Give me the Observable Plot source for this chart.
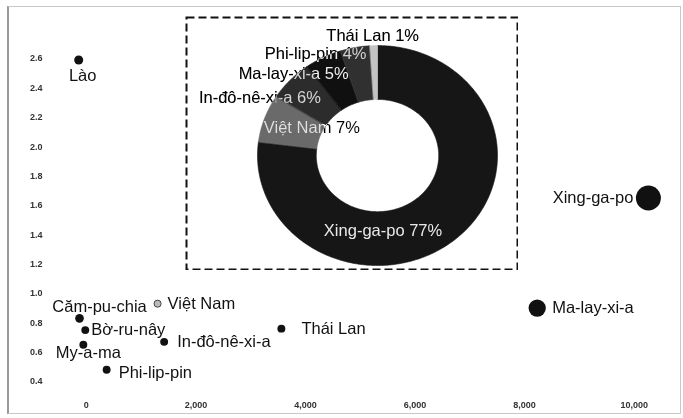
<!DOCTYPE html>
<html><head><meta charset="utf-8">
<script src="https://cdn.jsdelivr.net/npm/d3@7"></script>
<script src="https://cdn.jsdelivr.net/npm/@observablehq/plot@0.6"></script>
<style>
body{margin:0;background:#fff;}
#wrap{position:relative;width:683px;height:418px;overflow:hidden;font-family:"Liberation Sans",Arial,sans-serif;}
#border{position:absolute;left:7px;top:6px;width:674px;height:408px;border:1px solid #c8c8c8;border-left:2px solid #999;box-sizing:border-box;}
#main,#inset{position:absolute;}
#main{left:0;top:0;}
#inset{left:185px;top:16px;}
</style></head><body>
<div id="wrap"><div id="border"></div><div id="main"></div><div id="inset"></div></div>
<script>
// Scatter data
const countries = ["Lào","Căm-pu-chia","Bờ-ru-nây","My-a-ma","Phi-lip-pin","In-đô-nê-xi-a","Việt Nam","Thái Lan","Ma-lay-xi-a","Xing-ga-po"];
const xValues = [-140, -125, -20, -55, 370, 1420, 1300, 3560, 8230, 10260];
const yValues = [2.59, 0.83, 0.75, 0.65, 0.48, 0.67, 0.93, 0.76, 0.90, 1.65];
const bubbleValues = [13, 12, 10, 10, 10, 10, 8, 10, 48, 100];
const xTicks = [0, 2000, 4000, 6000, 8000, 10000];
const yTicks = [0.4, 0.6, 0.8, 1.0, 1.2, 1.4, 1.6, 1.8, 2.0, 2.2, 2.4, 2.6];

// Donut data
const pieNames = ["Xing-ga-po","Việt Nam","In-đô-nê-xi-a","Ma-lay-xi-a","Phi-lip-pin","Thái Lan"];
const pieShares = [77, 7, 6, 5, 4, 1];

// ---- styling ----
const FONT = '"Liberation Sans", Arial, Helvetica, sans-serif';
const pieColors = ["#161616","#6a6a6a","#2c2c2c","#101010","#303030","#c4c4c4"];
const labelStyle = {
  "Lào": {dx:4, dy:16, anchor:"middle"},
  "Căm-pu-chia": {dx:20, dy:-12, anchor:"middle"},
  "Bờ-ru-nây": {dx:6, dy:0, anchor:"start"},
  "My-a-ma": {dx:5, dy:8, anchor:"middle"},
  "Phi-lip-pin": {dx:12, dy:3, anchor:"start"},
  "In-đô-nê-xi-a": {dx:13, dy:0, anchor:"start"},
  "Việt Nam": {dx:10, dy:0, anchor:"start"},
  "Thái Lan": {dx:20, dy:0, anchor:"start"},
  "Ma-lay-xi-a": {dx:15, dy:0, anchor:"start"},
  "Xing-ga-po": {dx:-15, dy:0, anchor:"end"}
};

const points = countries.map((c, i) => ({name: c, x: xValues[i], y: yValues[i], size: bubbleValues[i]}));

const labelMarks = points.map(p => {
  const s = labelStyle[p.name];
  return Plot.text([p], {x: "x", y: "y", text: "name", dx: s.dx, dy: s.dy, textAnchor: s.anchor,
    fontSize: 16.5, fill: "#111"});
});

const main = Plot.plot({
  width: 683, height: 418,
  marginLeft: 53, marginRight: 11, marginTop: 29, marginBottom: 20,
  x: {domain: [-600, 10700]},
  y: {domain: [0.284, 2.798]},
  r: {type: "sqrt", domain: [0, 100], range: [0, 12.5]},
  style: {fontFamily: FONT, background: "transparent", overflow: "visible"},
  marks: [
    Plot.axisY({ticks: yTicks, tickSize: 0, tickPadding: 11, tickFormat: d3.format(".1f"),
      fontSize: 9, fontWeight: "bold", fill: "#333", label: null}),
    Plot.axisX({ticks: xTicks, tickSize: 0, tickPadding: 3, tickFormat: d3.format(","),
      fontSize: 9, fontWeight: "bold", fill: "#333", label: null}),
    Plot.dot(points.filter(d => d.name !== "Việt Nam"), {x: "x", y: "y", r: "size", fill: "#111"}),
    Plot.dot(points.filter(d => d.name === "Việt Nam"), {x: "x", y: "y", r: "size", fill: "#bbb", stroke: "#444", strokeWidth: 1}),
    ...labelMarks
  ]
});
document.getElementById("main").appendChild(main);

// ---- donut inset ----
const total = d3.sum(pieShares);
const R_OUT = 1, R_IN = 0.51;
const ring = [];
const pieLabels = [];
let cum = 0;
pieNames.forEach((n, i) => {
  const a0 = cum / total * 2 * Math.PI;
  cum += pieShares[i];
  const a1 = cum / total * 2 * Math.PI;
  const steps = Math.max(2, Math.ceil((a1 - a0) / 0.02));
  for (let k = 0; k <= steps; k++) {
    const a = a0 + (a1 - a0) * k / steps;
    ring.push({name: n, x: Math.sin(a) * R_OUT, y: Math.cos(a) * R_OUT});
  }
  for (let k = steps; k >= 0; k--) {
    const a = a0 + (a1 - a0) * k / steps;
    ring.push({name: n, x: Math.sin(a) * R_IN, y: Math.cos(a) * R_IN});
  }
  const am = (a0 + a1) / 2;
  pieLabels.push({name: n, text: `${n} ${pieShares[i]}%`, x: Math.sin(am) * 0.75, y: Math.cos(am) * 0.75});
});

const pieLabelOffsets = {
  "Xing-ga-po": {dx: -54, dy: 13},
  "Việt Nam": {dx: 19, dy: 0, boost: true},
  "In-đô-nê-xi-a": {dx: -52, dy: -1},
  "Ma-lay-xi-a": {dx: -43, dy: -8},
  "Phi-lip-pin": {dx: -45, dy: -21},
  "Thái Lan": {dx: -2, dy: -37}
};

// labels: inverted against the background (dark on white, light on the ring)
const pieLabelMarks = pieLabels.flatMap(l => {
  const o = pieLabelOffsets[l.name];
  const opts = {x: "x", y: "y", text: "text", dx: o.dx, dy: o.dy, fontSize: 16.5};
  const marks = [Plot.text([l], {...opts, fill: "white", mixBlendMode: "difference"})];
  if (o.boost) marks.push(Plot.text([l], {...opts, fill: "#555", mixBlendMode: "color-dodge"}));
  return marks;
});

const inset = Plot.plot({
  width: 333, height: 254,
  marginLeft: 0, marginRight: 0, marginTop: 0, marginBottom: 0,
  x: {domain: [-1.6, 1.175], axis: null},
  y: {domain: [-1.045, 1.264], axis: null},
  color: {domain: pieNames, range: pieColors},
  style: {fontFamily: FONT, background: "white"},
  marks: [
    Plot.frame({fill: "white", stroke: null}),
    Plot.line(ring, {x: "x", y: "y", z: "name", fill: "name", stroke: "name", strokeWidth: 0.6, curve: "linear-closed"}),
    ...pieLabelMarks,
    Plot.frame({stroke: "#111", strokeWidth: 2, strokeDasharray: "8,4", inset: 1})
  ]
});
document.getElementById("inset").appendChild(inset);
</script>
</body></html>
